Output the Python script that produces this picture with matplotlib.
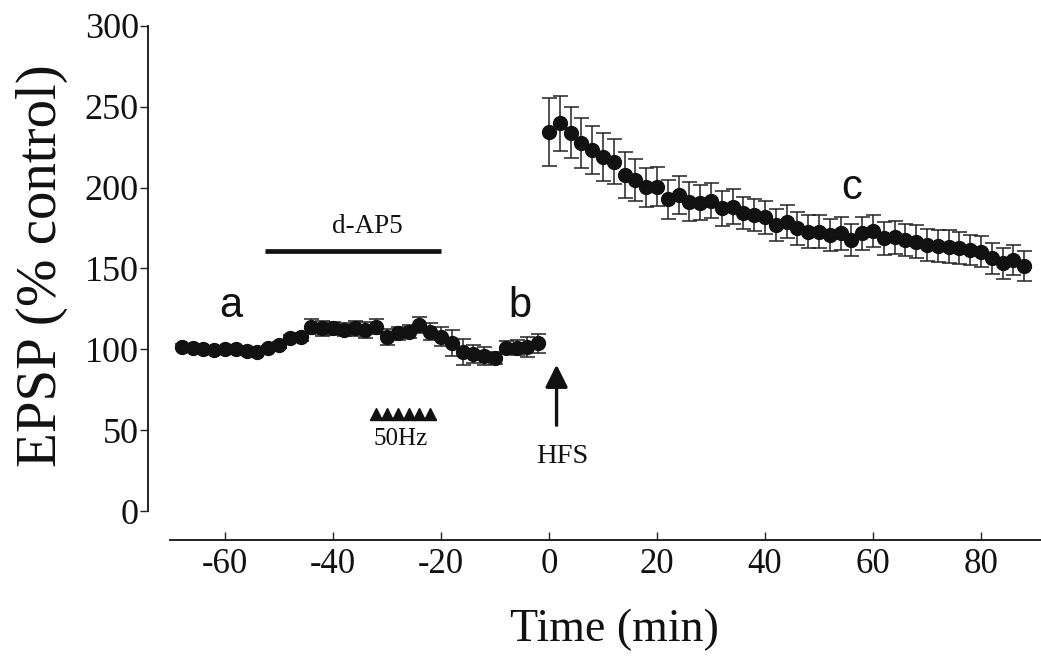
import matplotlib
matplotlib.use("Agg")
import matplotlib.pyplot as plt

# ---------------- data ----------------
pre_time = list(range(-68, 0, 2))
pre_epsp = [101.6, 101.0, 100.0, 99.5, 100.0, 100.0, 99.0, 98.5, 100.6, 102.6,
            106.8, 107.8, 114.0, 113.0, 113.0, 112.0, 113.0, 112.0, 114.0, 107.8,
            110.0, 111.0, 115.0, 111.0, 107.8, 103.7, 98.5, 97.0, 96.0, 94.6,
            101.0, 101.0, 101.5, 103.7]
pre_err = [1.5, 1.5, 1.5, 1.5, 1.5, 1.5, 1.5, 1.5, 1.5, 2.0,
           2.0, 2.5, 4.5, 4.5, 4.0, 4.0, 4.5, 5.0, 4.5, 5.0,
           4.0, 4.0, 5.0, 5.5, 6.0, 8.0, 8.0, 5.5, 5.5, 4.0,
           4.0, 4.5, 6.0, 6.0]

post_time = list(range(0, 90, 2))
post_epsp = [234.6, 239.8, 234.0, 227.4, 223.3, 219.0, 216.0, 207.8, 204.7, 200.2,
             200.6, 192.7, 195.4, 191.3, 190.7, 191.9, 187.2, 188.2, 184.1, 183.0,
             181.6, 176.9, 179.0, 174.8, 172.8, 172.8, 170.7, 171.7, 167.6, 171.7,
             173.3, 168.6, 169.2, 167.6, 166.6, 164.5, 163.9, 163.5, 162.5, 161.4,
             160.4, 156.3, 153.2, 155.2, 151.5]
post_err = [21, 17, 16, 15.5, 15, 15, 14, 14, 13, 12,
            12, 12, 12, 12, 11, 11, 11, 11, 10, 10,
            10, 10, 10, 10, 10, 10, 10, 10, 10, 10,
            10, 10, 10, 10, 10, 10, 10, 10, 10, 9.5,
            9.5, 9.5, 9.5, 9.5, 9]

ap5_span = [-52.6, -20.0]
ap5_level = 161.0
tetanus_times = [-32, -30, -28, -26, -24, -22]
tetanus_level = 60.0
hfs_time = 1.4

xticks = [-60, -40, -20, 0, 20, 40, 60, 80]
yticks = [0, 50, 100, 150, 200, 250, 300]

# ---------------- figure ----------------
W, H = 1041, 666
fig = plt.figure(figsize=(W / 100, H / 100), dpi=100)
fig.patch.set_facecolor("white")

ax_left, ax_right, ax_top, ax_bottom = 170, 1041, 20, 540
ax = fig.add_axes([ax_left / W, 1 - ax_bottom / H,
                   (ax_right - ax_left) / W, (ax_bottom - ax_top) / H])
ax.set_facecolor("none")

serif = "Liberation Serif"
sans = "Liberation Sans"
ink = "#111111"

for t, y, e in ((pre_time, pre_epsp, pre_err), (post_time, post_epsp, post_err)):
    ax.errorbar(t, y, yerr=e, fmt="o", color=ink, ecolor="#222222",
                markersize=10, elinewidth=1.1, capsize=5.4, capthick=1.1,
                zorder=3)

# d-AP5 bar
ax.plot(ap5_span, [ap5_level, ap5_level], color=ink, lw=3.4,
        solid_capstyle="butt")
ax.text(-33.7, 176, "d-AP5", ha="center", va="center", fontsize=19.5,
        family=serif, color=ink)

# 50 Hz tetanus triangles
ax.plot(tetanus_times, [tetanus_level] * len(tetanus_times), linestyle="none",
        marker="^", markersize=8.5, color=ink)
ax.plot([tetanus_times[0] - 1, tetanus_times[-1] + 1],
        [tetanus_level - 3.6] * 2, color=ink, lw=1.3)
ax.text(-27.4, 44.5, "50Hz", ha="center", va="center", fontsize=18,
        family=serif, color=ink)

# HFS arrow
ax.annotate("", xy=(hfs_time, 90.5), xytext=(hfs_time, 53),
            arrowprops=dict(arrowstyle="-|>", lw=2.4, color=ink,
                            mutation_scale=34, shrinkA=0, shrinkB=0))
ax.text(2.4, 34, "HFS", ha="center", va="center", fontsize=20.5,
        family=serif, color=ink)

# a, b, c labels
for lbl, tx, ty in (("a", -59, 127), ("b", -5.4, 127), ("c", 56.1, 200)):
    ax.text(tx, ty, lbl, ha="center", va="center", fontsize=30,
            family=sans, color=ink)

# axes
ax.set_xlim((ax_left - 549) / 5.4, (ax_right - 549) / 5.4)
ax.set_ylim((511 - ax_bottom) / 1.617, (511 - ax_top) / 1.617)
ax.spines["top"].set_visible(False)
ax.spines["right"].set_visible(False)
ax.spines["left"].set_position(("outward", 22 * 0.72))
ax.spines["left"].set_bounds(0, 300)
for s in ("left", "bottom"):
    ax.spines[s].set_linewidth(1.4)
    ax.spines[s].set_color("#222222")

ax.set_xticks(xticks)
ax.set_xticklabels([str(v) for v in xticks])
ax.set_yticks(yticks)
ax.set_yticklabels([str(v) for v in yticks])
ax.tick_params(axis="x", direction="in", length=6, width=1.0, colors="#222222",
               pad=6, labelsize=25)
ax.tick_params(axis="y", direction="out", length=6, width=1.0, colors="#222222",
               pad=0.5, labelsize=26)
for lab in ax.get_xticklabels() + ax.get_yticklabels():
    lab.set_family(serif)
    lab.set_color(ink)

fig.text(42 / W, 1 - 266 / H, "EPSP (% control)", rotation=90, ha="center",
         va="center", fontsize=41, family=serif, color=ink)
fig.text(614 / W, 1 - 630 / H, "Time (min)", ha="center", va="center",
         fontsize=33, family=serif, color=ink)

fig.savefig("out.png", dpi=100)
